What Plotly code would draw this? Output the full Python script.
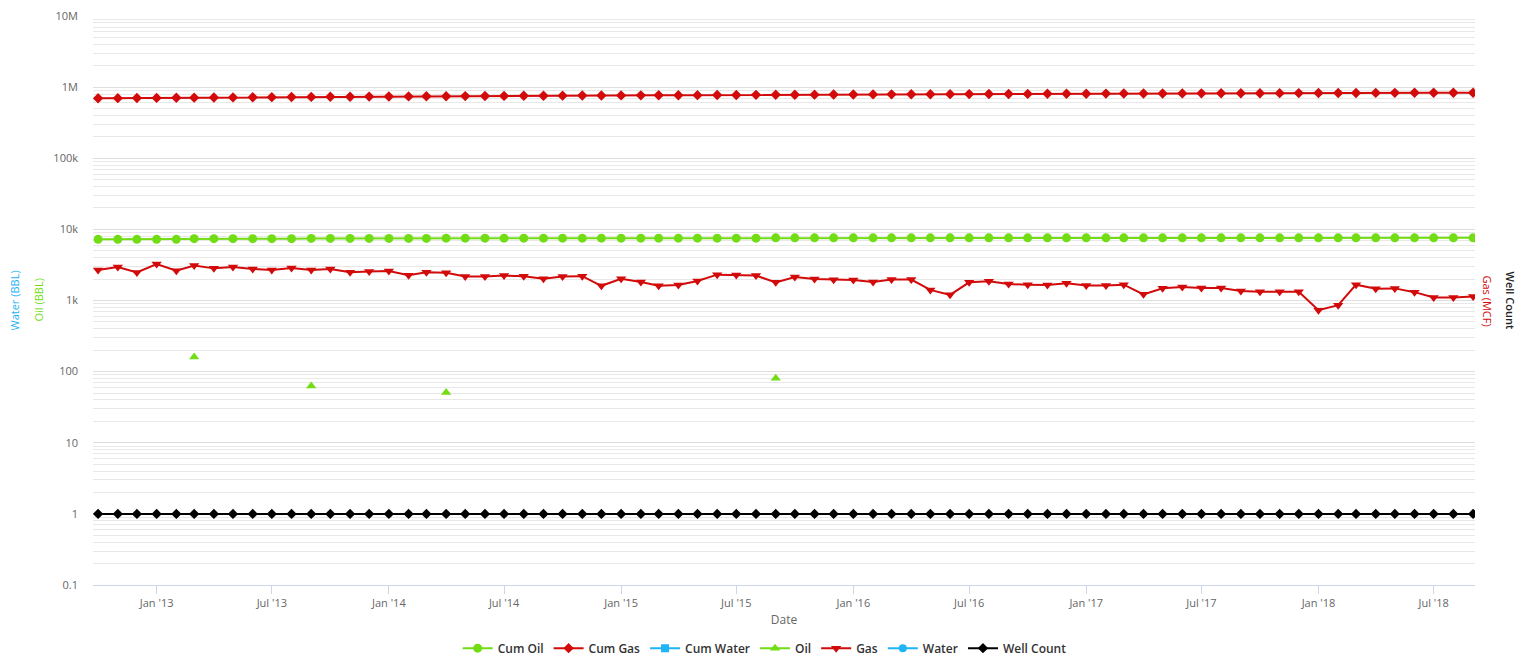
import plotly.graph_objects as go
import pandas as pd

# ---------------- data ----------------
months = pd.date_range("2012-10-01", "2018-09-01", freq="MS").strftime("%Y-%m-%d").tolist()

gas = [2680, 2950, 2480, 3250, 2620, 3100, 2830, 2950, 2780, 2680, 2860, 2680,
       2780, 2500, 2560, 2590, 2270, 2500, 2450, 2170, 2170, 2240, 2200, 2020,
       2170, 2200, 1610, 2020, 1820, 1610, 1650, 1880, 2310, 2290, 2240, 1800,
       2140, 2000, 1960, 1940, 1820, 1970, 1970, 1410, 1200, 1800, 1860, 1700,
       1670, 1650, 1750, 1630, 1630, 1670, 1220, 1490, 1550, 1500, 1500, 1360,
       1330, 1330, 1330, 730, 860, 1670, 1460, 1480, 1310, 1100, 1100, 1140]

cum_gas = [697000, 699900, 702400, 705700, 708300, 711400, 714200, 717200, 719900, 722600, 725500, 728200,
           731000, 733500, 736000, 738600, 740900, 743400, 745800, 748000, 750200, 752400, 754600, 756600,
           758800, 761000, 762600, 764600, 766400, 768000, 769700, 771600, 773900, 776200, 778400, 780200,
           782300, 784300, 786300, 788200, 790000, 792000, 794000, 795400, 796600, 798400, 800200, 801900,
           803600, 805300, 807000, 808600, 810300, 811900, 813200, 814700, 816200, 817700, 819200, 820600,
           821900, 823200, 824500, 825300, 826100, 827800, 829300, 830700, 832000, 833100, 834200, 835400]

oil = [None, None, None, None, None, 160, None, None, None, None, None, 63,
       None, None, None, None, None, None, 51, None, None, None, None, None,
       None, None, None, None, None, None, None, None, None, None, None, 81,
       None, None, None, None, None, None, None, None, None, None, None, None,
       None, None, None, None, None, None, None, None, None, None, None, None,
       None, None, None, None, None, None, None, None, None, None, None, None]

cum_oil = [7250, 7250, 7250, 7250, 7250, 7410, 7410, 7410, 7410, 7410, 7410, 7470,
           7470, 7470, 7470, 7470, 7470, 7470, 7520, 7520, 7520, 7520, 7520, 7520,
           7520, 7520, 7520, 7520, 7520, 7520, 7520, 7520, 7520, 7520, 7520, 7600,
           7600, 7600, 7600, 7600, 7600, 7600, 7600, 7600, 7600, 7600, 7600, 7600,
           7600, 7600, 7600, 7600, 7600, 7600, 7600, 7600, 7600, 7600, 7600, 7600,
           7600, 7600, 7600, 7600, 7600, 7600, 7600, 7600, 7600, 7600, 7600, 7600]

well_count = [1] * 72
cum_water = [None] * 72
water = [None] * 72

y_tickvals = [0.1, 1, 10, 100, 1000, 10000, 100000, 1000000, 10000000]
y_ticktext = ["0.1", "1", "10", "100", "1k", "10k", "100k", "1M", "10M"]

# ---------------- styles ----------------
GREEN = "#72dd14"
RED = "#d20a0a"
BLUE = "#1fb4f5"
BLACK = "#000000"
FONT = "Open Sans"

fig = go.Figure()

def add(name, y, color, symbol, size, mode="lines+markers", width=2):
    fig.add_trace(go.Scatter(
        x=months, y=y, name=name, mode=mode,
        line=dict(color=color, width=width),
        marker=dict(color=color, symbol=symbol, size=size, line=dict(width=0)),
        connectgaps=False,
    ))

add("Cum Oil", cum_oil, GREEN, "circle", 9)
add("Cum Gas", cum_gas, RED, "diamond", 8)
add("Cum Water", cum_water, BLUE, "square", 8)
add("Oil", oil, GREEN, "triangle-up", 9)
add("Gas", gas, RED, "triangle-down", 9)
add("Water", water, BLUE, "circle", 8)
add("Well Count", well_count, BLACK, "diamond", 8)

# The page body adds an 8px offset, so the figure is sized/positioned to compensate.
OFF = 8
W, H = 1533 - OFF, 661 - OFF
ML, MR, MT, MB = 93 - OFF, 58, 16 - OFF, 76

fig.update_layout(
    width=W, height=H,
    margin=dict(l=ML, r=MR, t=MT, b=MB, autoexpand=False),
    paper_bgcolor="white", plot_bgcolor="white",
    font=dict(family=FONT, size=11, color="#666666"),
    showlegend=True,
    legend=dict(orientation="h", x=0.486, xanchor="center", y=-0.111, yanchor="middle",
                font=dict(family=FONT, size=12, color="#333333", weight=600),
                itemwidth=30, tracegroupgap=0),
    xaxis=dict(
        type="date",
        range=["2012-09-23", "2018-09-04"],
        tick0="2013-01-01", dtick="M6", tickformat="%b '%y",
        showgrid=False, zeroline=False,
        showline=True, linecolor="#ccd6eb", linewidth=1,
        ticks="outside", ticklen=8, tickcolor="#ccd6eb",
        tickfont=dict(size=11, color="#666666"),
        title=dict(text="Date", font=dict(size=12, color="#666666"), standoff=6),
    ),
    yaxis=dict(
        type="log", range=[-1, 7],
        tickvals=y_tickvals, ticktext=y_ticktext,
        showgrid=True, gridcolor="#dedede", gridwidth=1,
        minor=dict(dtick="D1", showgrid=True, gridcolor="#e8e8e8", gridwidth=1, ticks=""),
        zeroline=False, showline=False, ticks="",
        ticklabelstandoff=14, ticklabeloverflow="allow",
        tickfont=dict(size=11, color="#666666"),
    ),
)

# axis titles (x given in page pixels, converted to paper coords below)
fig.add_annotation(text="Water (BBL)", x=14, y=0.5, xref="paper", yref="paper",
                   showarrow=False, textangle=-90, font=dict(size=11, color=BLUE))
fig.add_annotation(text="Oil (BBL)", x=38, y=0.5, xref="paper", yref="paper",
                   showarrow=False, textangle=-90, font=dict(size=11, color=GREEN))
fig.add_annotation(text="Gas (MCF)", x=1487, y=0.5, xref="paper", yref="paper",
                   showarrow=False, textangle=90, font=dict(size=11, color=RED))
fig.add_annotation(text="Well Count", x=1510, y=0.5, xref="paper", yref="paper",
                   showarrow=False, textangle=90, font=dict(size=11, color="#222222", weight=600))

pw = W - ML - MR
for a in fig.layout.annotations:
    a.x = (a.x - OFF - ML) / pw
    a.xanchor = "center"
    a.yanchor = "middle"

fig.write_html("out.html")
